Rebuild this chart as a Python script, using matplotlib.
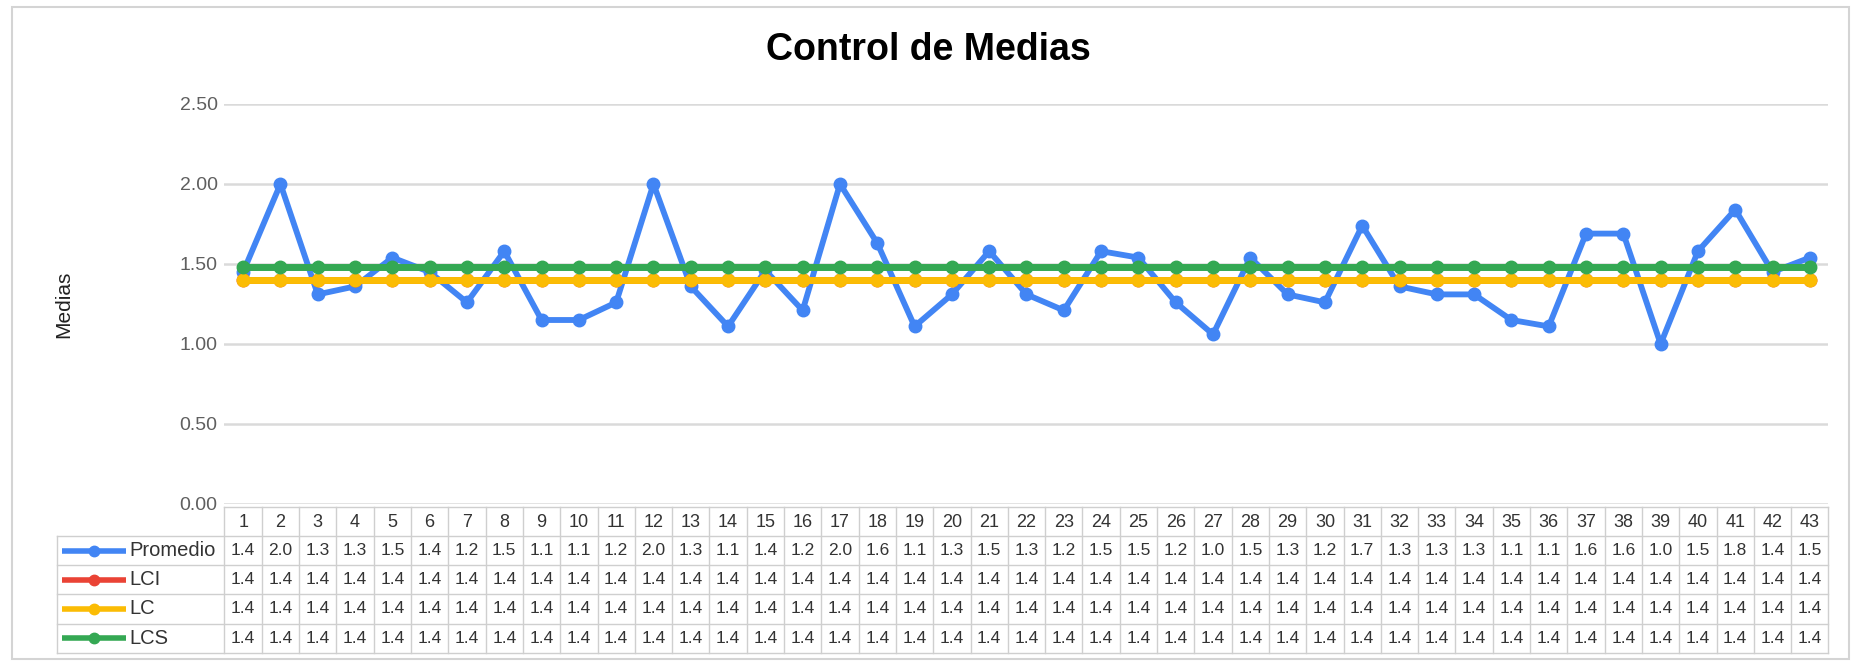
import numpy as np
import matplotlib
matplotlib.use("Agg")
import matplotlib.pyplot as plt
from matplotlib.patches import Rectangle

plt.rcParams['font.family'] = ['Liberation Sans', 'DejaVu Sans']

# data
muestras = list(range(1, 44))
promedio = [1.45, 2.00, 1.31, 1.36, 1.54, 1.45, 1.26, 1.58, 1.15, 1.15,
            1.26, 2.00, 1.36, 1.11, 1.46, 1.21, 2.00, 1.63, 1.11, 1.31,
            1.58, 1.31, 1.21, 1.58, 1.54, 1.26, 1.06, 1.54, 1.31, 1.26,
            1.74, 1.36, 1.31, 1.31, 1.15, 1.11, 1.69, 1.69, 1.00, 1.58,
            1.84, 1.45, 1.54]
lci = [1.40] * 43
lc = [1.40] * 43
lcs = [1.48] * 43

series_names = ['Promedio', 'LCI', 'LC', 'LCS']
series_colors = ['#4285F4', '#EA4335', '#FBBC04', '#34A853']
yticks = [0.0, 0.5, 1.0, 1.5, 2.0, 2.5]

W, H = 1856, 664


def fx(px):
    return px / W


def fy(py):
    return 1 - py / H


fig = plt.figure(figsize=(W / 100, H / 100), dpi=100)
fig.patch.set_facecolor('white')

# outer chart border
fig.patches.append(Rectangle((fx(12), fy(659)), fx(1849) - fx(12), fy(7) - fy(659),
                             transform=fig.transFigure, fill=False,
                             edgecolor='#d4d4d4', lw=1.5))

left, right, top, bottom = 224.5, 1828.5, 104, 504
ax = fig.add_axes([fx(left), fy(bottom), (right - left) / W, (bottom - top) / H])
ax.set_xlim(0.5, 43.5)
ax.set_ylim(0, 2.5)

all_series = [promedio, lci, lc, lcs]
for vals, name, col in zip(all_series, series_names, series_colors):
    lw = 4.2 if name == 'Promedio' else 5.0
    ax.plot(muestras, vals, color=col, lw=lw, marker='o', ms=9,
            solid_joinstyle='round', label=name, zorder=3)

ax.set_yticks(yticks)
ax.set_yticklabels(['%.2f' % t for t in yticks], fontsize=14, color='#5f5f5f')
ax.set_xticks([])
ax.tick_params(axis='y', length=0, pad=5)
ax.grid(axis='y', color='#dadada', lw=1.8)
ax.set_axisbelow(True)
for s in ax.spines.values():
    s.set_visible(False)
ax.set_ylabel('Medias', fontsize=15, color='#222222')
ax.yaxis.set_label_coords((73 - left) / (right - left), 0.5)

fig.text(0.5, fy(50), 'Control de Medias', ha='center', va='center',
         fontsize=27, fontweight='bold', color='black')

# data table under the plot
t_top, t_bot, t_left = 506.7, 652.7, 57
col_w = (right - left) / 43
leg_w = (left - t_left) / col_w
tab = fig.add_axes([fx(t_left), fy(t_bot), (right - t_left) / W, (t_bot - t_top) / H])
tab.set_xlim(0.5 - leg_w, 43.5)
tab.set_ylim(5, 0)
tab.axis('off')

gc = '#cfcfcf'
tab.plot([0.5, 43.5], [0, 0], color=gc, lw=1, clip_on=False)
for r in range(1, 6):
    tab.plot([0.5 - leg_w, 43.5], [r, r], color=gc, lw=1, clip_on=False)
for k in range(44):
    tab.plot([0.5 + k, 0.5 + k], [0, 5], color=gc, lw=1, clip_on=False)
tab.plot([0.5 - leg_w, 0.5 - leg_w], [1, 5], color=gc, lw=1, clip_on=False)

for m in muestras:
    tab.text(m, 0.55, str(m), ha='center', va='center', fontsize=13, color='#333333')

for i, (vals, name, col) in enumerate(zip(all_series, series_names, series_colors)):
    yr = i + 1.5
    x0 = 0.5 - leg_w
    tab.plot([x0 + 0.03 * leg_w, x0 + 0.41 * leg_w], [yr, yr], color=col, lw=4,
             solid_capstyle='butt', clip_on=False)
    tab.plot([x0 + 0.22 * leg_w], [yr], color=col, marker='o', ms=7.5, clip_on=False)
    tab.text(x0 + 0.43 * leg_w, yr, name, ha='left', va='center', fontsize=14.5,
             color='#333333')
    for m, v in zip(muestras, vals):
        txt = '%.1f' % (np.floor(v * 10 + 1e-6) / 10)
        tab.text(m, yr, txt, ha='center', va='center', fontsize=12.5, color='#333333')

fig.savefig('out.png', dpi=100, facecolor='white')
